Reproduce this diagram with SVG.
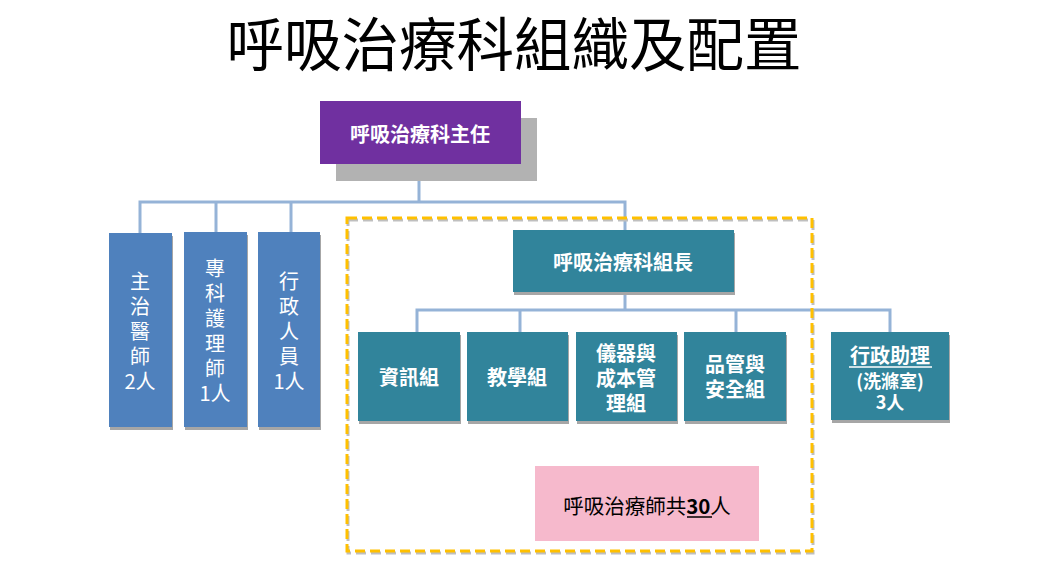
<svg xmlns="http://www.w3.org/2000/svg" width="1042" height="585" viewBox="0 0 1042 585">
<style>
.t{font-family:"Noto Sans CJK TC","Noto Sans CJK SC",sans-serif;fill:#fff;font-size:20px;text-anchor:middle;dominant-baseline:central}
.b{font-weight:bold}
.blue{fill:#4F81BD}
.teal{fill:#31849B}
.sh{fill:#A6A6A6}
.ln{stroke:#95B3D7;stroke-width:3;fill:none}
</style>
<rect width="1042" height="585" fill="#fff"/>
<text x="514" y="41" class="t" style="fill:#000;font-size:57.5px">呼吸治療科組織及配置</text>

<g id="connectors">
<path class="ln" d="M419 164V202M140 233V202H625V230M216 232V202M291 232V202"/>
<path class="ln" d="M625 292V310M417 332V310H890V332M520 332V310M736 332V310"/>
</g>

<g id="frame">
<rect x="348" y="220" width="465" height="333" fill="none" stroke="#BFBFBF" stroke-width="3" stroke-dasharray="10 5"/>
<rect x="347" y="218" width="465" height="333" fill="none" stroke="#FFC000" stroke-width="3" stroke-dasharray="10 5"/>
</g>

<g id="director">
<rect x="336" y="118" width="201" height="63" fill="#B2B2B2"/>
<rect x="320" y="101" width="201" height="63" fill="#7030A0"/>
<text x="420" y="133" class="t b">呼吸治療科主任</text>
</g>

<g id="attending">
<rect x="110" y="236" width="63" height="194" class="sh"/>
<rect x="109" y="233" width="63" height="194" class="blue"/>
<text class="t"><tspan x="140" y="280">主</tspan><tspan x="140" y="305">治</tspan><tspan x="140" y="330">醫</tspan><tspan x="140" y="355">師</tspan><tspan x="140" y="380">2人</tspan></text>
</g>

<g id="np">
<rect x="185" y="235" width="63" height="195" class="sh"/>
<rect x="184" y="232" width="63" height="195" class="blue"/>
<text class="t"><tspan x="215" y="267">專</tspan><tspan x="215" y="292">科</tspan><tspan x="215" y="317">護</tspan><tspan x="215" y="342">理</tspan><tspan x="215" y="367">師</tspan><tspan x="215" y="392">1人</tspan></text>
</g>

<g id="admin">
<rect x="259" y="235" width="62" height="195" class="sh"/>
<rect x="258" y="232" width="62" height="195" class="blue"/>
<text class="t"><tspan x="289" y="280">行</tspan><tspan x="289" y="305">政</tspan><tspan x="289" y="330">人</tspan><tspan x="289" y="355">員</tspan><tspan x="289" y="380">1人</tspan></text>
</g>

<g id="leader">
<rect x="514" y="233" width="221" height="62" class="sh"/>
<rect x="513" y="230" width="221" height="62" class="teal"/>
<text x="623" y="261" class="t b">呼吸治療科組長</text>
</g>

<g id="info">
<rect x="359" y="335" width="102" height="89" class="sh"/>
<rect x="358" y="332" width="102" height="89" class="teal"/>
<text x="409" y="376" class="t b">資訊組</text>
</g>

<g id="edu">
<rect x="468" y="335" width="101" height="89" class="sh"/>
<rect x="467" y="332" width="101" height="89" class="teal"/>
<text x="517" y="376" class="t b">教學組</text>
</g>

<g id="equip">
<rect x="577" y="335" width="101" height="89" class="sh"/>
<rect x="576" y="332" width="101" height="89" class="teal"/>
<text class="t b"><tspan x="626" y="352">儀器與</tspan><tspan x="626" y="377">成本管</tspan><tspan x="626" y="402">理組</tspan></text>
</g>

<g id="quality">
<rect x="685" y="335" width="102" height="89" class="sh"/>
<rect x="684" y="332" width="102" height="89" class="teal"/>
<text class="t b"><tspan x="735" y="363">品管與</tspan><tspan x="735" y="388">安全組</tspan></text>
</g>

<g id="assistant">
<rect x="832" y="335" width="118" height="88" class="sh"/>
<rect x="831" y="332" width="118" height="88" class="teal"/>
<text x="890" y="354" class="t b">行政助理</text>
<line x1="849" y1="367" x2="932" y2="367" stroke="#fff" stroke-width="1.5"/>
<text x="890" y="380" class="t b" style="font-size:18px">(洗滌室)</text>
<text x="890" y="401" class="t b" style="font-size:18px">3人</text>
</g>

<g id="total">
<rect x="535" y="466" width="224" height="75" fill="#F6B9CC"/>
<text x="647" y="505" class="t" style="fill:#000;font-size:20.5px">呼吸治療師共<tspan font-weight="bold">30</tspan>人</text>
<line x1="687" y1="517" x2="712" y2="517" stroke="#000" stroke-width="1.5"/>
</g>
</svg>
